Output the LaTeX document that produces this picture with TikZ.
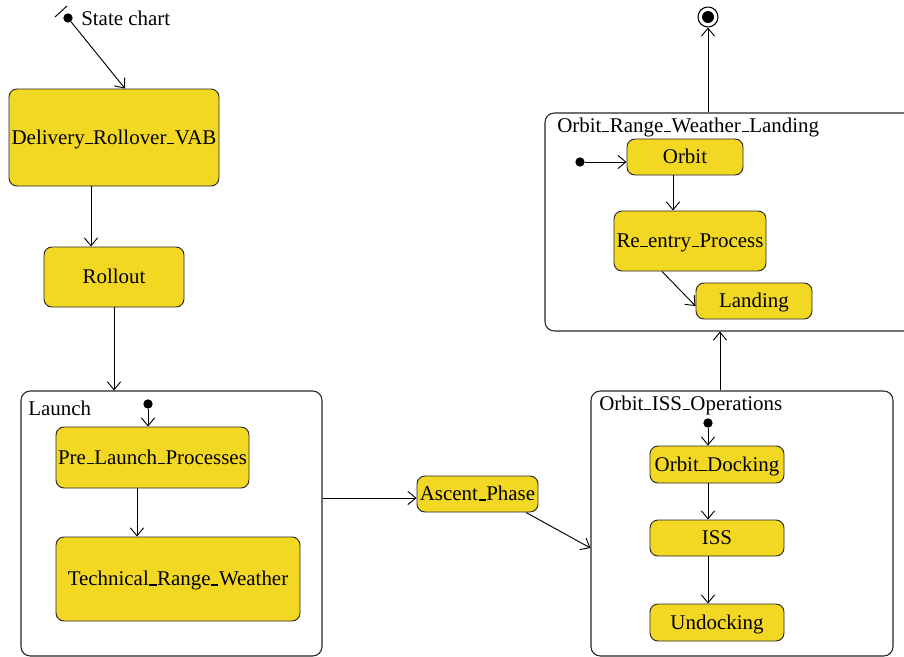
\documentclass[tikz,border=0pt]{standalone}
\usepackage{fontspec}
\setmainfont{Liberation Serif}
\usetikzlibrary{arrows.meta}
\definecolor{stfill}{RGB}{243,216,35}
\newcommand\us{\kern0.03em\rule[-0.01em]{0.34em}{0.07em}\kern0.03em}
\begin{document}
\begin{tikzpicture}[x=0.75pt,y=-0.75pt,
  font=\fontsize{15.7}{18}\selectfont,
  stbox/.style={draw=black!85, line width=0.7pt, fill=stfill, rounded corners=6pt, inner sep=0pt, align=center, text depth=1pt},
  cont/.style={draw=black!85, line width=0.8pt, rounded corners=7pt, inner sep=0pt},
  arr/.style={-{Straight Barb[length=6pt,width=10pt]}, line width=0.7pt},
  dot/.style={circle, fill=black, inner sep=0pt, minimum size=7pt},
  lbl/.style={anchor=west, inner sep=0pt}]
\useasboundingbox (0,0) rectangle (904,657);

% containers
\node[cont, minimum width=225.75pt, minimum height=198.75pt] (launch) at (171.5,523.5) {};
\node[cont, minimum width=226.5pt, minimum height=198.75pt] (issops) at (742,523.5) {};
\node[cont, minimum width=277.5pt, minimum height=163.5pt] (orange) at (730,222) {};
\node[lbl] (launchl) at (28,408) {Launch};
\node[lbl] (issopsl) at (599,405) {Orbit\us ISS\us Operations};
\node[lbl] (orangel) at (557,127) {Orbit\us Range\us Weather\us Landing};

% states
\node[stbox, minimum width=157.5pt, minimum height=72.75pt] (deliv) at (114,137.5) {Delivery\us Rollover\us VAB};
\node[stbox, minimum width=105pt, minimum height=45pt] (rollout) at (114,277) {Rollout};
\node[stbox, minimum width=144.75pt, minimum height=45.75pt] (prel) at (152.5,457.5) {Pre\us Launch\us Processes};
\node[stbox, minimum width=183pt, minimum height=63pt] (tech) at (178,579) {Technical\us Range\us Weather};
\node[stbox, minimum width=90.75pt, minimum height=27pt] (ascent) at (477.5,494) {Ascent\us Phase};
\node[stbox, minimum width=100.5pt, minimum height=27.75pt] (dock) at (717,464.5) {Orbit\us Docking};
\node[stbox, minimum width=100.5pt, minimum height=27pt] (iss) at (717,538) {ISS};
\node[stbox, minimum width=100.5pt, minimum height=27.75pt] (undock) at (717,622.5) {Undocking};
\node[stbox, minimum width=87pt, minimum height=27pt] (orbit) at (685,157) {Orbit};
\node[stbox, minimum width=114pt, minimum height=45pt] (reentry) at (690,241) {Re\us entry\us Process};
\node[stbox, minimum width=87pt, minimum height=27pt] (landing) at (754,301) {Landing};

% pseudo states
\node[dot] (init0) at (68,18) {};
\draw[line width=0.7pt] (55,17) -- (67,6);
\node[lbl] (title) at (81,18) {State chart};
\node[dot] (init1) at (148,404) {};
\node[dot] (init2) at (708,423) {};
\node[dot] (init3) at (580,162) {};
\node[circle, draw=black, line width=0.8pt, fill=white, minimum size=15pt, inner sep=0pt] (final) at (708,17) {};
\node[circle, fill=black, minimum size=9pt, inner sep=0pt] (finalin) at (708,17) {};

% transitions
\draw[arr] (init0) -- (125,0 |- deliv.north);
\draw[arr] (91,0 |- deliv.south) -- (91,0 |- rollout.north);
\draw[arr] (114,0 |- rollout.south) -- (114,0 |- launch.north);
\draw[arr] (init1) -- (148,0 |- prel.north);
\draw[arr] (137,0 |- prel.south) -- (137,0 |- tech.north);
\draw[arr] (launch.east |- 0,498) -- (ascent.west |- 0,498);
\draw[arr] (526,0 |- ascent.south) -- (issops.west |- 0,548);
\draw[arr] (init2) -- (708,0 |- dock.north);
\draw[arr] (708,0 |- dock.south) -- (708,0 |- iss.north);
\draw[arr] (708,0 |- iss.south) -- (708,0 |- undock.north);
\draw[arr] (720,0 |- issops.north) -- (720,0 |- orange.south);
\draw[arr] (init3) -- (orbit.west |- init3);
\draw[arr] (673,0 |- orbit.south) -- (673,0 |- reentry.north);
\draw[arr] (662,0 |- reentry.south) -- (landing.west |- 0,306);
\draw[arr] (708,0 |- orange.north) -- (final);
\end{tikzpicture}
\end{document}
